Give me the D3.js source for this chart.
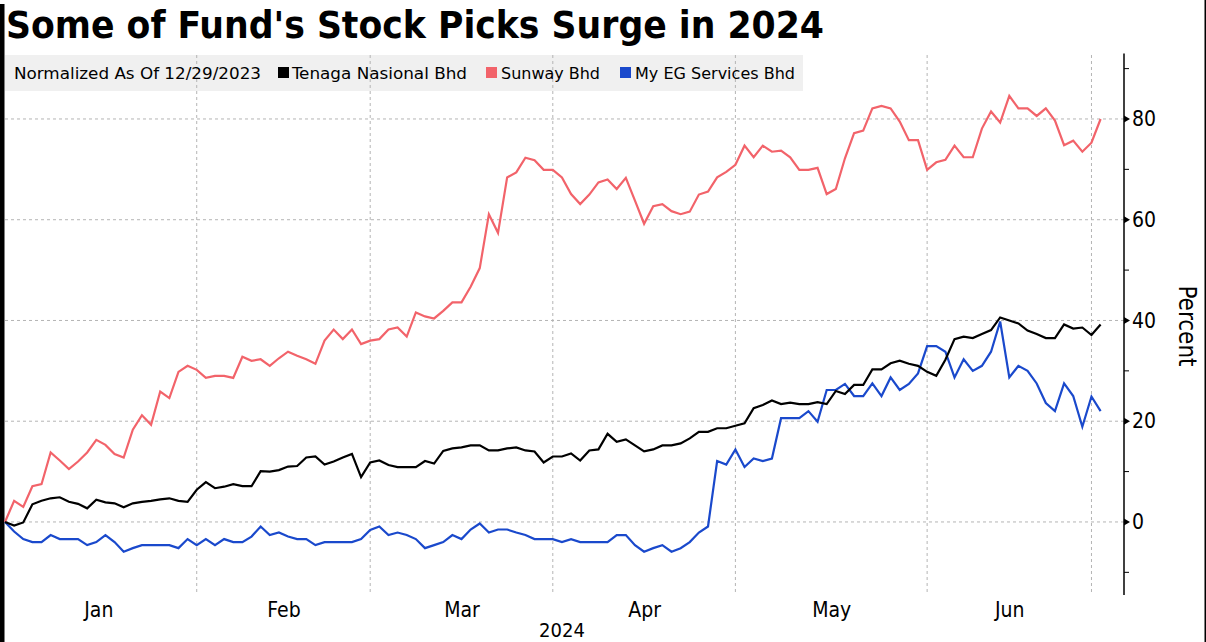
<!DOCTYPE html>
<html>
<head>
<meta charset="utf-8">
<script src="https://cdn.jsdelivr.net/npm/d3@7"></script>
<style>
  html, body { margin: 0; padding: 0; background: #fff; }
  svg { display: block; }
  text { font-family: "DejaVu Sans Condensed", "DejaVu Sans", sans-serif; font-stretch: condensed; }
</style>
</head>
<body>
<svg id="chart" width="1206" height="642"></svg>
<script>
// ---------------- data ----------------
const title = "Some of Fund's Stock Picks Surge in 2024";
const legendLabel = "Normalized As Of 12/29/2023";
const seriesNames = ["Tenaga Nasional Bhd", "Sunway Bhd", "My EG Services Bhd"];
const seriesColors = ["#000000", "#f2636a", "#1a49cc"];

// trading-day values (percent change since 12/29/2023), index 0 = 12/29/2023
const tenaga = [
  0, -0.7, -0.1, 3.5, 4.2, 4.7, 4.9, 4.0, 3.6, 2.7,
  4.4, 3.9, 3.7, 2.9, 3.7, 4.0, 4.2, 4.5, 4.7, 4.2,
  4.0, 6.4, 7.9, 6.7, 7.0, 7.5, 7.1, 7.1, 10.1, 10.0,
  10.3, 11.0, 11.1, 12.8, 13.0, 11.4, 12.0, 12.8, 13.5, 8.9,
  11.8, 12.2, 11.3, 10.9, 10.9, 10.9, 12.1, 11.6, 14.1, 14.6,
  14.8, 15.2, 15.2, 14.2, 14.2, 14.6, 14.8, 14.2, 14.0, 11.8,
  13.0, 13.0, 13.6, 12.2, 14.2, 14.4, 17.5, 15.9, 16.4, 15.2,
  14.0, 14.4, 15.2, 15.2, 15.6, 16.6, 17.9, 17.9, 18.6, 18.6,
  19.1, 19.6, 22.6, 23.2, 24.1, 23.4, 23.7, 23.4, 23.4, 23.8,
  23.4, 26.0, 25.4, 27.2, 27.2, 30.3, 30.3, 31.5, 32.0, 31.4,
  31.0, 29.8, 29.0, 32.2, 36.3, 36.8, 36.5, 37.3, 38.1, 40.6,
  40.0, 39.4, 38.0, 37.3, 36.5, 36.5, 39.2, 38.4, 38.6, 37.1,
  39.2
];
const sunway = [
  0, 4.2, 3.0, 7.1, 7.5, 13.8, 12.2, 10.5, 12.0, 13.8,
  16.3, 15.3, 13.5, 12.8, 18.3, 21.2, 19.3, 25.9, 24.6, 29.8,
  31.0, 30.2, 28.6, 29.0, 29.0, 28.6, 32.8, 32.0, 32.3, 31.0,
  32.5, 33.8, 33.0, 32.3, 31.4, 36.0, 38.2, 36.3, 38.2, 35.3,
  36.0, 36.3, 38.2, 38.6, 36.8, 41.6, 40.8, 40.4, 41.9, 43.6,
  43.6, 46.7, 50.4, 61.1, 57.4, 68.4, 69.4, 72.3, 71.8, 69.9,
  69.9, 68.4, 65.1, 63.1, 65.0, 67.4, 68.0, 66.1, 68.3, 63.8,
  59.2, 62.7, 63.1, 61.7, 61.1, 61.6, 65.0, 65.6, 68.4, 69.5,
  70.9, 74.7, 72.4, 74.7, 73.5, 73.7, 72.4, 69.9, 69.9, 70.3,
  65.1, 66.1, 72.2, 77.2, 77.7, 82.1, 82.6, 82.1, 79.5, 75.8,
  75.8, 69.9, 71.4, 71.9, 74.7, 72.4, 72.4, 78.1, 81.5, 79.3,
  84.6, 82.1, 82.1, 80.6, 82.1, 79.7, 74.8, 75.7, 73.5, 75.3,
  80.0
];
const myeg = [
  0, -1.9, -3.4, -4.0, -4.0, -2.6, -3.4, -3.4, -3.4, -4.6,
  -4.0, -2.6, -4.0, -5.9, -5.2, -4.6, -4.6, -4.6, -4.6, -5.2,
  -3.4, -4.6, -3.4, -4.6, -3.4, -4.0, -4.0, -2.9, -0.9, -2.6,
  -2.1, -2.9, -3.4, -3.4, -4.6, -4.0, -4.0, -4.0, -4.0, -3.4,
  -1.6, -0.9, -2.6, -2.1, -2.6, -3.4, -5.2, -4.6, -4.0, -2.6,
  -3.4, -1.5, -0.3, -2.1, -1.5, -1.5, -2.1, -2.6, -3.4, -3.4,
  -3.4, -4.0, -3.4, -4.0, -4.0, -4.0, -4.0, -2.6, -2.6, -4.6,
  -5.9, -5.2, -4.6, -5.9, -5.2, -4.0, -2.1, -0.9, 12.1, 11.4,
  14.4, 10.9, 12.6, 12.1, 12.6, 20.6, 20.6, 20.6, 22.0, 19.9,
  26.2, 26.2, 27.4, 25.0, 25.0, 27.5, 25.0, 28.7, 26.2, 27.4,
  29.5, 34.9, 34.9, 33.8, 28.7, 32.3, 30.0, 31.0, 33.8, 39.8,
  28.7, 31.0, 30.0, 27.5, 23.6, 22.0, 27.5, 25.0, 18.9, 24.9,
  22.0
];

const monthLabels = ["Jan", "Feb", "Mar", "Apr", "May", "Jun"];
const monthEndIndex = [21, 40, 60, 80, 101, 119];   // last trading day index of each month
const yearLabel = "2024";
const yTicks = [0, 20, 40, 60, 80];
const yMinorTicks = [-10, 10, 30, 50, 70, 90];
const yAxisTitle = "Percent";

// ---------------- layout ----------------
const W = 1206, H = 642;
const plotLeft = 0, axisX = 1124, plotTop = 53.5, plotBottom = 595;

const svg = d3.select("#chart");

const x = d3.scaleLinear().domain([0, tenaga.length - 1]).range([5, 1100.6]);
const y = d3.scaleLinear().domain([-14.5, 93]).range([plotBottom, plotTop]);

// frame edges
svg.append("rect").attr("x", 0).attr("y", 4).attr("width", 4.5).attr("height", H - 4).attr("fill", "#000");
svg.append("rect").attr("x", 1204.5).attr("y", 0).attr("width", 1.5).attr("height", H).attr("fill", "#000");

// title
svg.append("text")
  .attr("x", 6).attr("y", 38)
  .attr("font-size", 37).attr("font-weight", "bold")
  .attr("textLength", 818).attr("lengthAdjust", "spacingAndGlyphs")
  .attr("fill", "#000")
  .text(title);

// legend background
svg.append("rect").attr("x", 5).attr("y", 55).attr("width", 798).attr("height", 36).attr("fill", "#f0f0f0");

// horizontal gridlines
svg.append("g").selectAll("line").data(yTicks).join("line")
  .attr("x1", 5).attr("x2", axisX)
  .attr("y1", d => y(d)).attr("y2", d => y(d))
  .attr("stroke", "#b4b4b4").attr("stroke-width", 1).attr("stroke-dasharray", "3,3");

// vertical gridlines at month boundaries
svg.append("g").selectAll("line").data(monthEndIndex).join("line")
  .attr("x1", d => x(d)).attr("x2", d => x(d))
  .attr("y1", 55).attr("y2", plotBottom)
  .attr("stroke", "#b4b4b4").attr("stroke-width", 1).attr("stroke-dasharray", "3,3");

// legend entries
const legendFont = 16.5;
svg.append("text").attr("x", 14).attr("y", 79).attr("font-size", legendFont)
  .attr("textLength", 247).attr("lengthAdjust", "spacingAndGlyphs").text(legendLabel);
const legendItems = [
  { sq: 278, tx: 292, len: 175 },
  { sq: 486, tx: 501, len: 99 },
  { sq: 620, tx: 635, len: 160 }
];
legendItems.forEach((it, i) => {
  svg.append("rect").attr("x", it.sq).attr("y", 67).attr("width", 11).attr("height", 11).attr("fill", seriesColors[i]);
  svg.append("text").attr("x", it.tx).attr("y", 79).attr("font-size", legendFont)
    .attr("textLength", it.len).attr("lengthAdjust", "spacingAndGlyphs").text(seriesNames[i]);
});

// lines
const line = d3.line().x((d, i) => x(i)).y(d => y(d));
const series = [myeg, sunway, tenaga];
const colorsDraw = [seriesColors[2], seriesColors[1], seriesColors[0]];
series.forEach((s, k) => {
  svg.append("path").datum(s)
    .attr("d", line)
    .attr("fill", "none")
    .attr("stroke", colorsDraw[k])
    .attr("stroke-width", 2.2)
    .attr("stroke-linejoin", "miter");
});

// right y axis
const yAxis = d3.axisRight(y).tickValues(yTicks).tickSize(0).tickPadding(8).tickFormat(d3.format("d"));
const gy = svg.append("g").attr("transform", `translate(${axisX},0)`).call(yAxis);
gy.select(".domain").remove();
gy.selectAll("text").attr("font-size", 21).attr("fill", "#000")
  .style("font-family", '"DejaVu Sans Condensed", "DejaVu Sans", sans-serif');
svg.append("line").attr("x1", axisX).attr("x2", axisX).attr("y1", plotTop).attr("y2", plotBottom)
  .attr("stroke", "#000").attr("stroke-width", 1.5);
// major tick markers (small triangles)
svg.append("g").selectAll("path").data(yTicks).join("path")
  .attr("d", d => `M${axisX},${y(d) - 3.5}L${axisX + 6},${y(d)}L${axisX},${y(d) + 3.5}Z`)
  .attr("fill", "#000");
// minor ticks
svg.append("g").selectAll("line").data(yMinorTicks).join("line")
  .attr("x1", axisX).attr("x2", axisX + 5)
  .attr("y1", d => y(d)).attr("y2", d => y(d))
  .attr("stroke", "#000").attr("stroke-width", 1);

// y axis title
svg.append("text")
  .attr("transform", `translate(1179,326) rotate(90)`)
  .attr("text-anchor", "middle").attr("font-size", 24).attr("fill", "#000")
  .text(yAxisTitle);

// bottom month labels (centered between month boundaries)
const monthMid = monthEndIndex.map((e, k) => {
  const start = k === 0 ? x.invert(plotLeft) : monthEndIndex[k - 1];
  return (start + e) / 2;
});
const xAxis = d3.axisBottom(x).tickValues(monthMid).tickSize(0).tickPadding(0)
  .tickFormat((d, i) => monthLabels[i]);
const gx = svg.append("g").attr("transform", `translate(0,${plotBottom})`).call(xAxis);
gx.select(".domain").remove();
gx.selectAll("text").attr("font-size", 21).attr("fill", "#000").attr("dy", null).attr("y", 22)
  .style("font-family", '"DejaVu Sans Condensed", "DejaVu Sans", sans-serif');

svg.append("text")
  .attr("x", (plotLeft + axisX) / 2).attr("y", 637)
  .attr("text-anchor", "middle").attr("font-size", 20).attr("fill", "#000")
  .text(yearLabel);
</script>
</body>
</html>
